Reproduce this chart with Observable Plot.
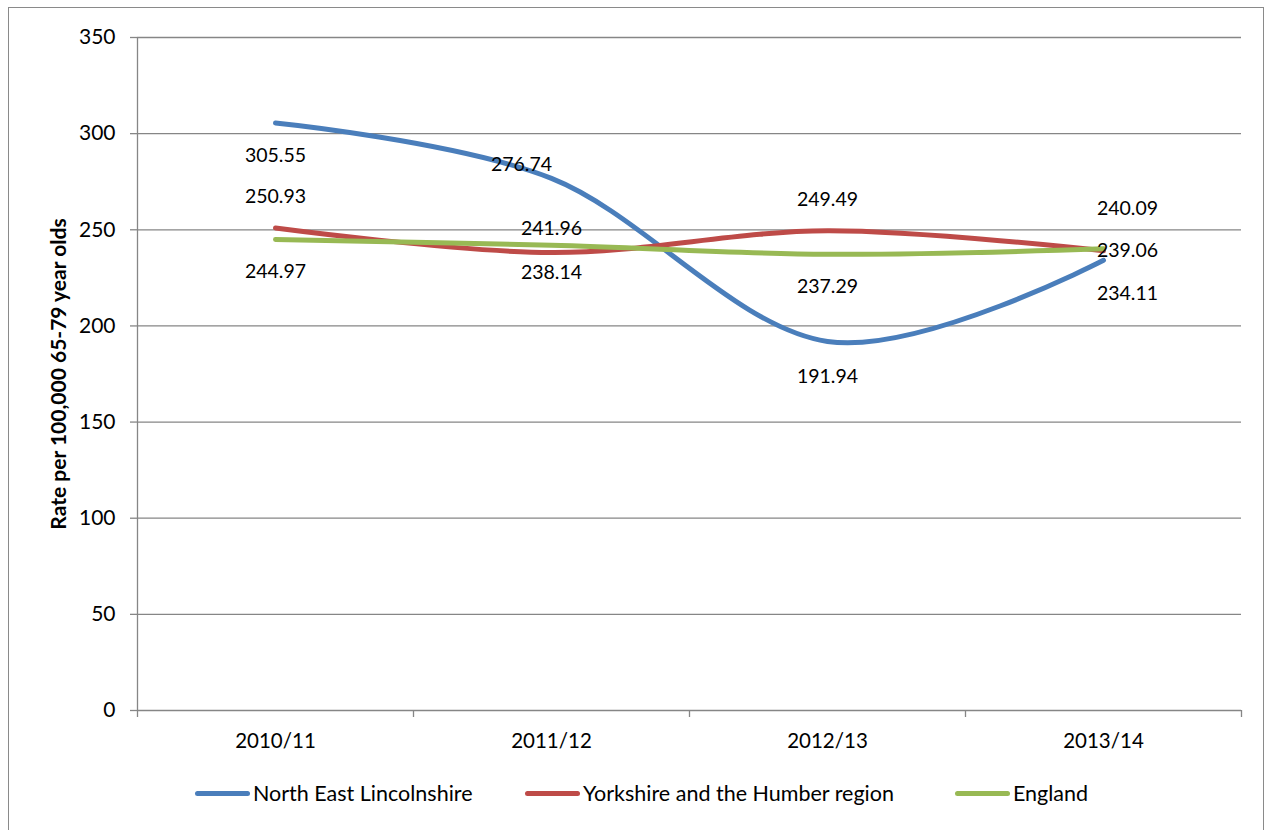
<!DOCTYPE html>
<html>
<head>
<meta charset="utf-8">
<script src="https://cdn.jsdelivr.net/npm/d3@7"></script>
<script src="https://cdn.jsdelivr.net/npm/@observablehq/plot@0.6"></script>
<style>
  html, body { margin: 0; padding: 0; background: #fff; }
  body { width: 1269px; height: 830px; overflow: hidden; position: relative; font-family: Lato, "Open Sans", sans-serif; }
  #frame { position: absolute; left: 8px; top: 7px; width: 1256px; height: 840px; border: 1.5px solid #8a8a8a; box-sizing: border-box; z-index: 5; pointer-events: none; }
  #chart { position: absolute; left: 0; top: 0; }
  #legend { position: absolute; top: 780px; left: 0; width: 1269px; height: 30px; }
  .item { position: absolute; display: flex; align-items: center; font-size: 21.5px; color: #000; }
  .sw { width: 55px; height: 5px; border-radius: 3px; margin-right: 3px; }
</style>
</head>
<body>
<div id="chart"></div>
<div id="legend"></div>
<div id="frame"></div>
<script>
const categories = ["2010/11", "2011/12", "2012/13", "2013/14"];
const northEastLincolnshire = [305.55, 276.74, 191.94, 234.11];
const yorkshireHumber = [250.93, 238.14, 249.49, 239.06];
const england = [244.97, 241.96, 237.29, 240.09];
const yTicks = [0, 50, 100, 150, 200, 250, 300, 350];
const seriesNames = ["North East Lincolnshire", "Yorkshire and the Humber region", "England"];
const seriesColors = ["#4a7ebb", "#be4b48", "#98b954"];

// label placement offsets (pixels), per series and category
const labelOffsets = [
  [[0, 33], [-30, -14], [0, 35], [24, 33]],
  [[0, -31], [0, 20], [0, -31], [24, 0]],
  [[0, 32], [0, -16], [0, 33], [24, -40]]
];

const seriesValues = [northEastLincolnshire, yorkshireHumber, england];
const rows = seriesValues.flatMap((vals, s) =>
  vals.map((v, i) => ({series: seriesNames[s], s, i, value: v})));

const W = 1269, H = 760;
const lineMarks = seriesValues.map((vals, s) =>
  Plot.line(rows.filter(r => r.s === s), {
    x: "i", y: "value", stroke: seriesColors[s], strokeWidth: 5,
    curve: "cardinal", tension: 0, strokeLinecap: "round"
  }));
const labelMarks = rows.map(r =>
  Plot.text([r], {
    x: "i", y: "value", text: d => d.value.toFixed(2),
    dx: labelOffsets[r.s][r.i][0], dy: labelOffsets[r.s][r.i][1],
    fontSize: 19.5, fill: "#000"
  }));

const boundaries = d3.range(categories.length + 1).map(k => k - 0.5);

const chart = Plot.plot({
  width: W, height: H,
  marginLeft: 137, marginRight: 28, marginTop: 37, marginBottom: 50,
  style: {fontFamily: "Lato, 'Open Sans', sans-serif", background: "transparent"},
  x: {type: "linear", domain: [-0.5, categories.length - 0.5], axis: null},
  y: {type: "linear", domain: [0, 350], axis: null},
  marks: [
    Plot.ruleY(yTicks, {stroke: "#868686", strokeWidth: 1.3}),
    Plot.ruleX([-0.5], {stroke: "#868686", strokeWidth: 1.3}),
    Plot.axisY({ticks: yTicks, tickSize: 7, tickPadding: 15, stroke: "#868686", strokeWidth: 1.3, fontSize: 21, fill: "#000", label: null, tickFormat: d => String(d)}),
    Plot.axisX({ticks: boundaries, tickSize: 7, tickFormat: () => "", stroke: "#868686", strokeWidth: 1.3, label: null}),
    Plot.axisX({ticks: d3.range(categories.length), tickSize: 0, tickPadding: 23, tickFormat: i => categories[i], fontSize: 20.5, fill: "#000", label: null}),
    Plot.text(["Rate per 100,000 65-79 year olds"], {
      frameAnchor: "left", textAnchor: "middle", dx: -78, rotate: -90, fontWeight: "bold", fontSize: 21, fill: "#000", text: d => d
    }),
    ...lineMarks,
    ...labelMarks
  ]
});
document.getElementById("chart").appendChild(chart);

const legendX = [195, 525, 955];
const legend = document.getElementById("legend");
seriesNames.forEach((name, s) => {
  const item = document.createElement("div");
  item.className = "item";
  item.style.left = legendX[s] + "px";
  item.innerHTML = `<span class="sw" style="background:${seriesColors[s]}"></span><span>${name}</span>`;
  legend.appendChild(item);
});
</script>
</body>
</html>
